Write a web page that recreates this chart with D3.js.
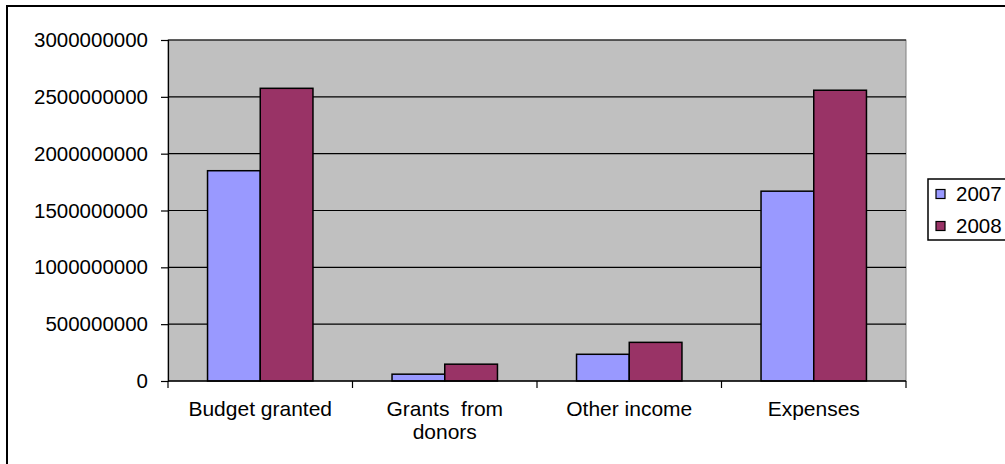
<!DOCTYPE html>
<html lang="en">
<head>
    <meta charset="UTF-8">
    <title>Budget</title>
    <script src="https://cdn.jsdelivr.net/npm/d3@7"></script>
    <style>
        body { margin: 0; background: #fff; }
        text { font-family: "Liberation Sans", Arial, sans-serif; fill: #000; }
    </style>
</head>
<body>
<script>
    const categories = [["Budget granted"], ["Grants  from", "donors"], ["Other income"], ["Expenses"]];
    const years = ["2007", "2008"];
    const values2007 = [1850000000, 60000000, 235000000, 1670000000];
    const values2008 = [2575000000, 148000000, 340000000, 2558000000];
    const yTicks = [0, 500000000, 1000000000, 1500000000, 2000000000, 2500000000, 3000000000];
    const colors = ["#9999FF", "#993366"];

    const W = 1005, H = 464;
    const margin = {top: 40, right: 99, bottom: 83, left: 168};

    const svg = d3.select("body").append("svg").attr("width", W).attr("height", H);

    // outer chart frame (runs off the right and bottom edge)
    svg.append("rect").attr("x", 7).attr("y", 6).attr("width", W + 20).attr("height", H + 20)
        .attr("fill", "#fff").attr("stroke", "#000").attr("stroke-width", 2);

    const x = d3.scaleBand().domain(d3.range(categories.length))
        .range([margin.left, W - margin.right]);
    const y = d3.scaleLinear().domain([0, 3000000000])
        .range([H - margin.bottom, margin.top]);

    // plot area
    svg.append("rect").attr("x", margin.left).attr("y", margin.top)
        .attr("width", W - margin.right - margin.left).attr("height", y(0) - margin.top)
        .attr("fill", "#C0C0C0").attr("stroke", "#808080").attr("stroke-width", 1);

    // gridlines
    svg.append("g").selectAll("line").data(yTicks.slice(1)).join("line")
        .attr("x1", margin.left).attr("x2", W - margin.right)
        .attr("y1", d => y(d)).attr("y2", d => y(d))
        .attr("stroke", "#000").attr("stroke-width", 1.2);

    // bars
    const bw = x.bandwidth() / 3.5;
    const series = [values2007, values2008];
    series.forEach((vals, s) => {
        svg.append("g").selectAll("rect").data(vals).join("rect")
            .attr("x", (d, i) => x(i) + bw * 0.75 + s * bw)
            .attr("y", d => y(d))
            .attr("width", bw)
            .attr("height", d => y(0) - y(d))
            .attr("fill", colors[s])
            .attr("stroke", "#000").attr("stroke-width", 1.5);
    });

    // y axis
    const yAxis = svg.append("g").attr("transform", `translate(${margin.left},0)`)
        .call(d3.axisLeft(y).tickValues(yTicks).tickSize(7).tickPadding(13).tickFormat(d3.format("d")));
    yAxis.selectAll("path, line").attr("stroke", "#000").attr("stroke-width", 1.2);
    yAxis.selectAll("text").attr("font-size", 20.5).style("font-family", "Liberation Sans, Arial, sans-serif");

    // x axis
    const xAxisG = svg.append("g");
    xAxisG.append("line").attr("x1", margin.left).attr("x2", W - margin.right)
        .attr("y1", y(0)).attr("y2", y(0)).attr("stroke", "#000").attr("stroke-width", 1.5);
    xAxisG.selectAll("line.tick").data(d3.range(categories.length + 1)).join("line")
        .attr("class", "tick")
        .attr("x1", i => margin.left + i * x.step()).attr("x2", i => margin.left + i * x.step())
        .attr("y1", y(0)).attr("y2", y(0) + 7).attr("stroke", "#000").attr("stroke-width", 1.2);
    categories.forEach((lines, i) => {
        const t = xAxisG.append("text").attr("text-anchor", "middle")
            .attr("x", x(i) + x.bandwidth() / 2).attr("y", y(0) + 35)
            .attr("font-size", 21);
        lines.forEach((ln, j) => {
            t.append("tspan").attr("x", x(i) + x.bandwidth() / 2).attr("dy", j ? 23 : 0)
                .attr("xml:space", "preserve").text(ln);
        });
    });

    // legend
    const lg = svg.append("g");
    lg.append("rect").attr("x", 928).attr("y", 179).attr("width", 100).attr("height", 61)
        .attr("fill", "#fff").attr("stroke", "#000").attr("stroke-width", 1.5);
    years.forEach((yr, i) => {
        const cy = 194 + i * 32;
        lg.append("rect").attr("x", 936).attr("y", cy - 4.5).attr("width", 9).attr("height", 9)
            .attr("fill", colors[i]).attr("stroke", "#000").attr("stroke-width", 1.2);
        lg.append("text").attr("x", 956).attr("y", cy + 7).attr("font-size", 20.5).text(yr);
    });
</script>
</body>
</html>
